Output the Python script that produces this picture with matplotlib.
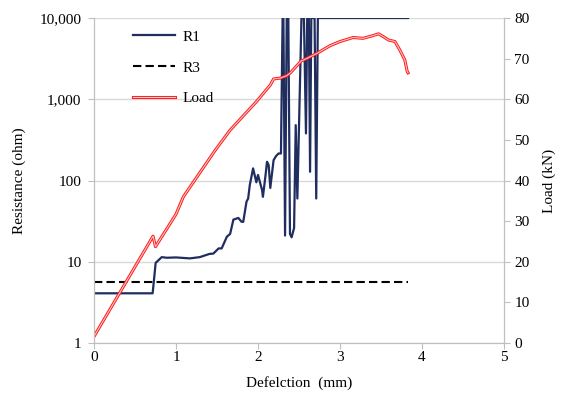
import matplotlib
matplotlib.use("Agg")
import matplotlib.pyplot as plt
import matplotlib.ticker as mticker
import matplotlib.patheffects as pe

# ---- data ----
r1_x = [0, 0.715, 0.735, 0.752, 0.78, 0.826, 0.887, 1.0, 1.17, 1.29, 1.41, 1.455, 1.52, 1.557,
        1.62, 1.66, 1.70, 1.76, 1.80, 1.82, 1.86, 1.88, 1.90, 1.94, 1.98, 2.00, 2.05, 2.06,
        2.09, 2.11, 2.13, 2.15, 2.19, 2.22, 2.25, 2.28, 2.30, 2.31, 2.33, 2.35, 2.37, 2.39,
        2.41, 2.44, 2.46, 2.48, 2.53, 2.56, 2.585, 2.60, 2.62, 2.635, 2.65, 2.69, 2.71, 2.73, 3.83]
r1_y = [4.09, 4.09, 6.5, 9.7, 10.3, 11.4, 11.2, 11.3, 11.0, 11.4, 12.5, 12.6, 14.6, 14.6,
        20.3, 22, 33, 34.6, 31, 31, 55, 60, 88, 141, 95, 117, 76, 63,
        112, 170, 155, 81, 178, 200, 215, 215, 10000, 10000, 21, 10000, 10000, 22,
        20, 26, 480, 60, 10000, 10000, 380, 10000, 10000, 128, 10000, 10000, 60, 10000, 10000]

r3_x = [0, 3.83]
r3_y = [5.58, 5.58]

load_x = [0, 0.72, 0.75, 1.0, 1.09, 1.48, 1.66, 1.98, 2.15, 2.19, 2.27, 2.35, 2.39, 2.53, 2.55,
          2.72, 2.88, 3.0, 3.16, 3.28, 3.39, 3.47, 3.53, 3.59, 3.67, 3.73, 3.79, 3.82, 3.83]
load_y = [1.6, 26.3, 23.7, 31.7, 36.0, 47.5, 52.4, 59.4, 63.5, 65.0, 65.2, 65.8, 66.4, 69.5, 69.6,
          71.3, 73.2, 74.2, 75.2, 75.0, 75.6, 76.1, 75.4, 74.6, 74.2, 72.1, 69.7, 66.8, 66.5]

x_ticks = [0, 1, 2, 3, 4, 5]
r_ticks = [1, 10, 100, 1000, 10000]
load_ticks = [0, 10, 20, 30, 40, 50, 60, 70, 80]

plt.rcParams['font.family'] = ['Liberation Serif', 'DejaVu Serif']
FS = 11
GRAY = '#BFBFBF'

fig = plt.figure(figsize=(5.68, 3.97), dpi=100)
ax = fig.add_axes([94/568, 1-343/397, (504-94)/568, (343-18)/397])
ax2 = ax.twinx()

ax.set_yscale('log')
ax.set_xlim(0, 5)
ax.set_ylim(1, 10000)
ax.set_xticks(x_ticks)
ax.set_yticks(r_ticks)
ax.yaxis.set_major_formatter(mticker.FuncFormatter(lambda v, p: '{:,.0f}'.format(v)))
ax.yaxis.set_minor_locator(mticker.NullLocator())
ax.grid(axis='y', color='#D9D9D9', lw=1.0)
ax.set_axisbelow(True)

l1, = ax.plot(r1_x, r1_y, color='#1F2D5F', lw=1.6, label='R1', solid_joinstyle='round')
l2, = ax.plot(r3_x, r3_y, color='black', lw=1.5, ls=(0, (4, 2)), label='R3')

l3, = ax2.plot(load_x, load_y, color='#FFC4C4', lw=0.8, label='Load',
               path_effects=[pe.Stroke(linewidth=2.2, foreground='#FF1A1A'), pe.Normal()])
ax2.set_ylim(0, 80)
ax2.set_yticks(load_ticks)

for a in (ax, ax2):
    for s in a.spines.values():
        s.set_color(GRAY)
    a.spines['top'].set_visible(False)
    a.tick_params(colors=GRAY, labelcolor='black', labelsize=FS, length=4, width=0.8)
ax.tick_params(axis='x', pad=1.5)
ax.tick_params(axis='y', pad=5)

ax.set_xlabel('Defelction  (mm)', fontsize=FS, labelpad=9)
ax.set_ylabel('Resistance (ohm)', fontsize=FS, labelpad=10)
ax2.set_ylabel('Load (kN)', fontsize=FS, labelpad=9)

fig.legend(handles=[l1, l2, l3], loc='upper left', bbox_to_anchor=(133/568, 1-30/397),
           frameon=False, fontsize=FS, handlelength=2.75, labelspacing=1.12,
           handletextpad=0.5, borderpad=0, borderaxespad=0)

fig.savefig('out.png', dpi=100)
